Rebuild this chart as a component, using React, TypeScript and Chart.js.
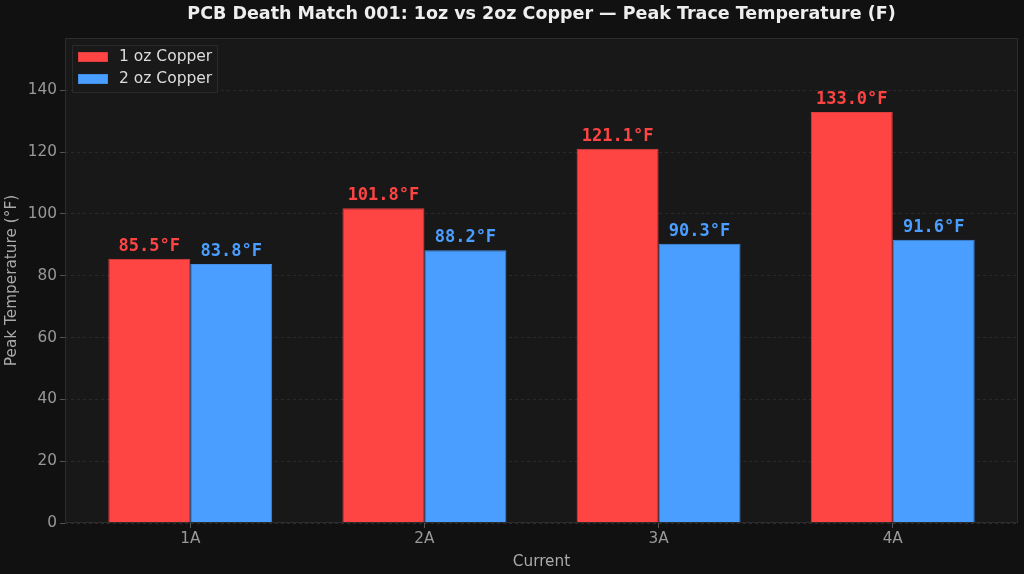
import React, { useEffect, useRef } from "react";
import { Chart, registerables } from "chart.js";

Chart.register(...registerables);

const categories = ["1A", "2A", "3A", "4A"];
const oneOz = [85.5, 101.8, 121.1, 133.0];
const twoOz = [83.8, 88.2, 90.3, 91.6];
const seriesLabels = ["1 oz Copper", "2 oz Copper"];
const yTicks = [0, 20, 40, 60, 80, 100, 120, 140];

const RED = "#ff4444";
const BLUE = "#4a9eff";

const bgPlugin = {
  id: "bgPlugin",
  beforeDraw(chart: any) {
    const { ctx, chartArea: a, width, height } = chart;
    ctx.save();
    ctx.fillStyle = "#111111";
    ctx.fillRect(0, 0, width, height);
    ctx.fillStyle = "#181818";
    ctx.fillRect(a.left, a.top, a.right - a.left, a.bottom - a.top);
    ctx.restore();
  },
  afterDraw(chart: any) {
    const { ctx, chartArea: a } = chart;
    ctx.save();
    // border
    ctx.strokeStyle = "#2c2c2c";
    ctx.lineWidth = 1;
    ctx.strokeRect(a.left + 0.5, a.top + 0.5, a.right - a.left - 1, a.bottom - a.top - 1);
    // title
    ctx.fillStyle = "#eeeeee";
    ctx.font = "bold 17.5px 'DejaVu Sans'";
    ctx.textAlign = "center";
    ctx.textBaseline = "middle";
    ctx.fillText(
      "PCB Death Match 001: 1oz vs 2oz Copper \u2014 Peak Trace Temperature (F)",
      (a.left + a.right) / 2,
      14
    );
    // value labels
    ctx.font = "bold 17px 'DejaVu Sans Mono'";
    ctx.textBaseline = "alphabetic";
    chart.data.datasets.forEach((ds: any, di: number) => {
      const meta = chart.getDatasetMeta(di);
      meta.data.forEach((bar: any, i: number) => {
        const v = ds.data[i].y;
        ctx.fillStyle = ds.backgroundColor;
        ctx.fillText(v.toFixed(1) + "\u00B0F", bar.x, bar.y - 8);
      });
    });
    // legend
    const lx = a.left + 7;
    const ly = a.top + 7;
    ctx.fillStyle = "rgba(26,26,26,0.9)";
    ctx.strokeStyle = "#2a2a2a";
    ctx.beginPath();
    ctx.rect(lx + 0.5, ly + 0.5, 145, 47);
    ctx.fill();
    ctx.stroke();
    ctx.font = "15.5px 'DejaVu Sans'";
    ctx.textAlign = "left";
    ctx.textBaseline = "middle";
    chart.data.datasets.forEach((ds: any, di: number) => {
      const y = ly + 12 + di * 22;
      ctx.fillStyle = ds.backgroundColor;
      ctx.fillRect(lx + 6, y - 5, 30, 10);
      ctx.strokeStyle = ds.borderColor;
      ctx.strokeRect(lx + 6.5, y - 4.5, 29, 9);
      ctx.fillStyle = "#dddddd";
      ctx.fillText(ds.label, lx + 47, y);
    });
    ctx.restore();
  },
};

export default function App() {
  const ref = useRef<HTMLCanvasElement | null>(null);
  useEffect(() => {
    document.body.style.margin = "0";
    document.body.style.background = "#111111";
    const chart = new Chart(ref.current as HTMLCanvasElement, {
      type: "bar",
      data: {
        datasets: [
          {
            label: seriesLabels[0],
            data: oneOz.map((v, i) => ({ x: i, y: v })),
            backgroundColor: RED,
            borderColor: "#e03e3e",
            borderWidth: 1,
          },
          {
            label: seriesLabels[1],
            data: twoOz.map((v, i) => ({ x: i, y: v })),
            backgroundColor: BLUE,
            borderColor: "#428ee6",
            borderWidth: 1,
          },
        ],
      },
      options: {
        animation: false,
        responsive: false,
        devicePixelRatio: 1,
        categoryPercentage: 0.7,
        barPercentage: 1.0,
        layout: { padding: { top: 38, right: 6, left: 0, bottom: 0 } },
        plugins: {
          legend: { display: false },
          title: { display: false },
          tooltip: { enabled: false },
        },
        scales: {
          x: {
            type: "linear",
            min: -0.535,
            max: 3.535,
            offset: false,
            afterBuildTicks: (s: any) => {
              s.ticks = categories.map((_, i) => ({ value: i }));
            },
            afterFit: (s: any) => {
              s.height = 51;
            },
            ticks: {
              color: "#999999",
              font: { family: "DejaVu Sans", size: 15.3 },
              padding: 2,
              callback: (v: any) => categories[v as number] ?? "",
            },
            grid: {
              offset: false,
              drawOnChartArea: false,
              drawTicks: true,
              tickLength: 5,
              color: "#555555",
            },
            border: { display: false },
            title: {
              display: true,
              text: "Current",
              color: "#aaaaaa",
              font: { family: "DejaVu Sans", size: 15.3 },
              padding: { top: 4, bottom: 3 },
            },
          },
          y: {
            min: 0,
            max: 156.9,
            afterBuildTicks: (s: any) => {
              s.ticks = yTicks.map((v) => ({ value: v }));
            },
            afterFit: (s: any) => {
              s.width = 65;
            },
            ticks: {
              color: "#999999",
              font: { family: "DejaVu Sans", size: 15.3 },
              padding: 3,
            },
            grid: {
              color: "#2a2a2a",
              tickColor: "#555555",
              tickLength: 5,
            },
            border: { display: false, dash: [3, 3] },
            title: {
              display: true,
              text: "Peak Temperature (\u00B0F)",
              color: "#aaaaaa",
              font: { family: "DejaVu Sans", size: 15.3 },
              padding: { top: 3, bottom: 4 },
            },
          },
        },
      } as any,
      plugins: [bgPlugin],
    });
    return () => chart.destroy();
  }, []);
  return (
    <div style={{ width: 1024, height: 574 }}>
      <canvas ref={ref} width={1024} height={574} style={{ display: "block" }} />
    </div>
  );
}
